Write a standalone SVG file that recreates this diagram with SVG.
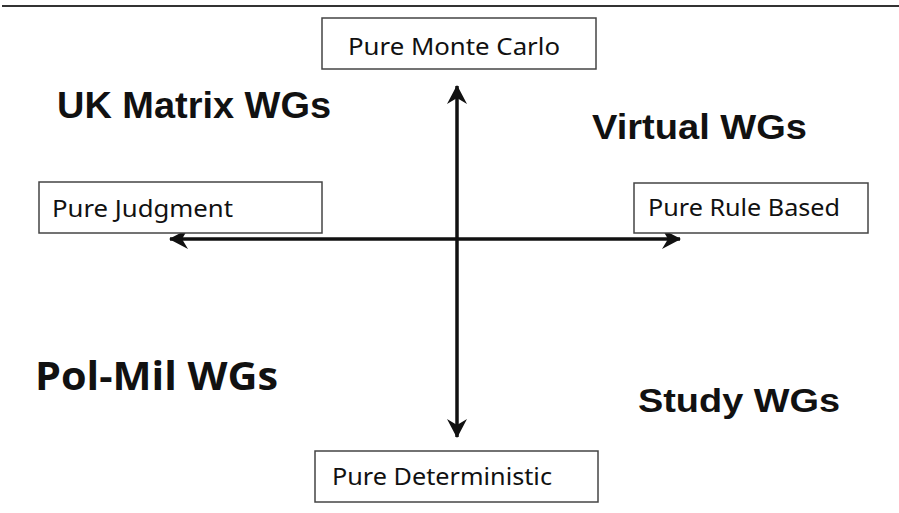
<svg xmlns="http://www.w3.org/2000/svg" width="899" height="513" viewBox="0 0 899 513">
<defs>
<marker id="ah" markerUnits="userSpaceOnUse" markerWidth="24" markerHeight="24" viewBox="-20 -12 24 24" refX="0" refY="0" orient="auto">
<path d="M1,0 L-18,-10 L-12,0 L-18,10 Z" fill="#111"/>
</marker>
<style>
.box{fill:#fff;stroke:#444;stroke-width:1.5}
.bt{font-family:"Noto Sans","Open Sans","DejaVu Sans",sans-serif;font-size:23px;fill:#111}
.q{font-family:"Liberation Sans",Arial,sans-serif;font-weight:bold;fill:#111}
.pm{font-family:"Open Sans","Noto Sans",sans-serif;font-weight:bold;fill:#111}
.ax{stroke:#111;stroke-width:3.5;fill:none}
</style>
</defs>
<rect width="899" height="513" fill="#fff"/>
<line x1="2" y1="6" x2="899" y2="6" stroke="#333" stroke-width="1.8"/>
<g id="connectors">
<line class="ax" x1="457" y1="239" x2="457" y2="86" marker-end="url(#ah)"/>
<line class="ax" x1="457" y1="239" x2="457" y2="437" marker-end="url(#ah)"/>
<line class="ax" x1="457" y1="239" x2="170" y2="239" marker-end="url(#ah)"/>
<line class="ax" x1="457" y1="239" x2="680" y2="239" marker-end="url(#ah)"/>
</g>
<g id="pure-monte-carlo">
<rect class="box" x="322" y="18" width="274" height="51"/>
<text class="bt" x="348" y="55" textLength="212" lengthAdjust="spacingAndGlyphs">Pure Monte Carlo</text>
</g>
<g id="pure-judgment">
<rect class="box" x="39" y="182" width="283" height="51"/>
<text class="bt" x="52" y="217" textLength="181" lengthAdjust="spacingAndGlyphs">Pure Judgment</text>
</g>
<g id="pure-rule-based">
<rect class="box" x="634" y="183" width="234" height="50"/>
<text class="bt" x="648" y="216" textLength="192" lengthAdjust="spacingAndGlyphs">Pure Rule Based</text>
</g>
<g id="pure-deterministic">
<rect class="box" x="315" y="451" width="283" height="51"/>
<text class="bt" x="332" y="485" textLength="220" lengthAdjust="spacingAndGlyphs">Pure Deterministic</text>
</g>
<g id="uk-matrix">
<text class="q" x="57" y="118" font-size="37" textLength="274" lengthAdjust="spacingAndGlyphs">UK Matrix WGs</text>
</g>
<g id="virtual">
<text class="q" x="592" y="139" font-size="35" textLength="215" lengthAdjust="spacingAndGlyphs">Virtual WGs</text>
</g>
<g id="pol-mil">
<text class="pm" x="35" y="390" font-size="40" textLength="243" lengthAdjust="spacingAndGlyphs">Pol-Mil WGs</text>
</g>
<g id="study">
<text class="q" x="638" y="412" font-size="34" textLength="202" lengthAdjust="spacingAndGlyphs">Study WGs</text>
</g>
</svg>
